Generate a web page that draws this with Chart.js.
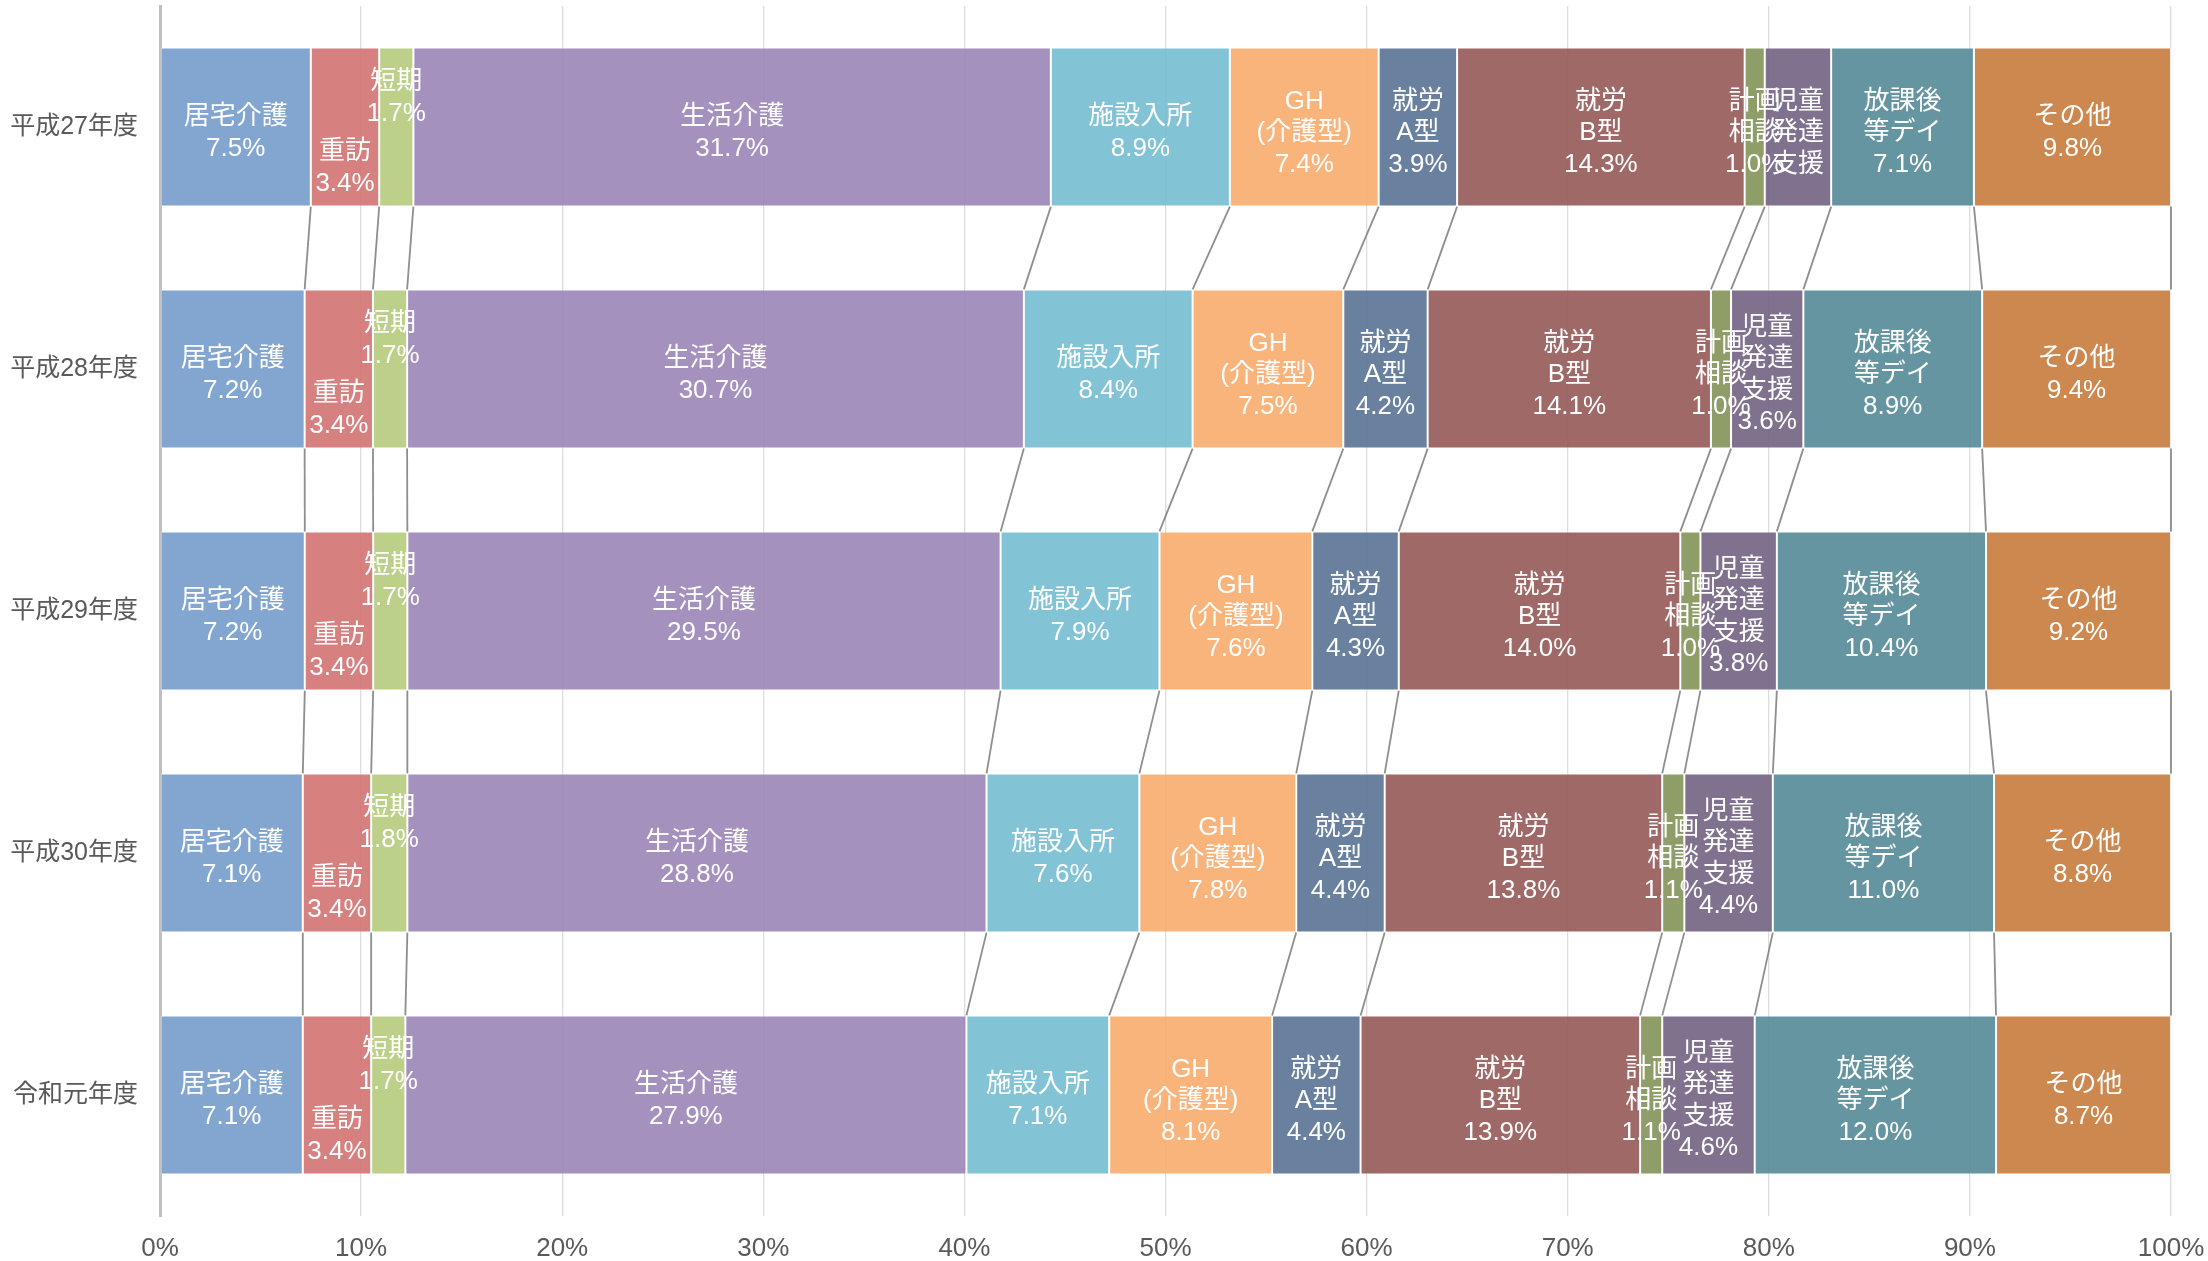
<!DOCTYPE html>
<html>
<head>
<meta charset="utf-8">
<script src="https://cdn.jsdelivr.net/npm/chart.js@4"></script>
<style>
  html, body { margin: 0; padding: 0; background: #ffffff; }
  #wrap { width: 2208px; height: 1261px; position: relative; }
</style>
</head>
<body>
<div id="wrap"><canvas id="c" width="2208" height="1261"></canvas></div>
<script>
// ---------------- data ----------------
const categories = ['平成27年度', '平成28年度', '平成29年度', '平成30年度', '令和元年度'];
const seriesNames = ['居宅介護', '重訪', '短期', '生活介護', '施設入所', 'GH(介護型)', '就労A型', '就労B型', '計画相談', '児童発達支援', '放課後等デイ', 'その他'];

const kyotaku  = [7.5, 7.2, 7.2, 7.1, 7.1];
const juho     = [3.4, 3.4, 3.4, 3.4, 3.4];
const tanki    = [1.7, 1.7, 1.7, 1.8, 1.7];
const seikatsu = [31.7, 30.7, 29.5, 28.8, 27.9];
const shisetsu = [8.9, 8.4, 7.9, 7.6, 7.1];
const gh       = [7.4, 7.5, 7.6, 7.8, 8.1];
const shuroA   = [3.9, 4.2, 4.3, 4.4, 4.4];
const shuroB   = [14.3, 14.1, 14.0, 13.8, 13.9];
const keikaku  = [1.0, 1.0, 1.0, 1.1, 1.1];
const jido     = [3.3, 3.6, 3.8, 4.4, 4.6];
const hokago   = [7.1, 8.9, 10.4, 11.0, 12.0];
const sonota   = [9.8, 9.4, 9.2, 8.8, 8.7];

const xTickValues = [0, 10, 20, 30, 40, 50, 60, 70, 80, 90, 100];

// label text lines for each series (value line appended)
const labelLines = [
  ['居宅介護'], ['重訪'], ['短期'], ['生活介護'], ['施設入所'],
  ['GH', '(介護型)'], ['就労', 'A型'], ['就労', 'B型'], ['計画', '相談'],
  ['児童', '発達', '支援'], ['放課後', '等デイ'], ['その他']
];
// value hidden for 児童発達支援 in 平成27年度
const hiddenValues = [[9, 0]];

// ---------------- styles ----------------
const seenColors = ['#84A6D0', '#D68080', '#BDD08A', '#A491BE', '#83C4D6', '#F8B47C',
                    '#6A819E', '#9E6A68', '#8F9E6A', '#80728F', '#6696A2', '#CC884F'];
const labelOffsetY = [0, 35, -35, 0, 0, 0, 0, 0, 0, 0, 0, 0];
const ALPHA = 0.9;
function baseColor(hex, a) {
  const n = parseInt(hex.slice(1), 16);
  const ch = [(n >> 16) & 255, (n >> 8) & 255, n & 255].map(v => Math.max(0, Math.min(255, Math.round((v - (1 - a) * 255) / a))));
  return `rgba(${ch[0]},${ch[1]},${ch[2]},${a})`;
}

const seriesValues = [kyotaku, juho, tanki, seikatsu, shisetsu, gh, shuroA, shuroB, keikaku, jido, hokago, sonota];
const totals = categories.map((_, i) => seriesValues.reduce((s, arr) => s + arr[i], 0));

const FONT_FAMILY = "'Liberation Sans', Arial, 'Noto Sans CJK JP', sans-serif";

const datasets = seriesValues.map((arr, k) => ({
  label: seriesNames[k],
  data: arr.map((v, i) => v / totals[i] * 100),
  raw: arr,
  backgroundColor: baseColor(seenColors[k], ALPHA),
  borderColor: 'rgba(255,255,255,0.55)',
  borderWidth: 1,
  borderSkipped: false,
  categoryPercentage: 1.0,
  barPercentage: 0.658
}));

// series lines connecting bars
const seriesLinesPlugin = {
  id: 'seriesLines',
  afterDatasetsDraw(chart) {
    const ctx = chart.ctx;
    ctx.save();
    ctx.strokeStyle = 'rgba(130,130,130,0.9)';
    ctx.lineWidth = 1.8;
    chart.data.datasets.forEach((ds, k) => {
      const meta = chart.getDatasetMeta(k);
      for (let i = 0; i < meta.data.length - 1; i++) {
        const a = meta.data[i], b = meta.data[i + 1];
        ctx.beginPath();
        ctx.moveTo(a.x, a.y + a.height / 2);
        ctx.lineTo(b.x, b.y - b.height / 2);
        ctx.stroke();
      }
    });
    ctx.restore();
  }
};

// data labels
const labelsPlugin = {
  id: 'segLabels',
  afterDatasetsDraw(chart) {
    const ctx = chart.ctx;
    ctx.save();
    ctx.fillStyle = '#ffffff';
    ctx.font = `26px ${FONT_FAMILY}`;
    ctx.textAlign = 'center';
    ctx.textBaseline = 'middle';
    const LH = 31.5;
    chart.data.datasets.forEach((ds, k) => {
      const meta = chart.getDatasetMeta(k);
      meta.data.forEach((el, i) => {
        const lines = labelLines[k].slice();
        const hide = hiddenValues.some(h => h[0] === k && h[1] === i);
        if (!hide) lines.push(ds.raw[i].toFixed(1) + '%');
        const cx = (el.x + el.base) / 2;
        const cy = el.y + labelOffsetY[k] + 6;
        const y0 = cy - (lines.length - 1) * LH / 2;
        lines.forEach((t, j) => ctx.fillText(t, cx, y0 + j * LH));
      });
    });
    ctx.restore();
  }
};

new Chart(document.getElementById('c'), {
  type: 'bar',
  data: { labels: categories, datasets },
  options: {
    indexAxis: 'y',
    responsive: false,
    animation: false,
    layout: { padding: { top: 6, right: 37, left: 0, bottom: 0 } },
    plugins: { legend: { display: false }, tooltip: { enabled: false } },
    scales: {
      x: {
        stacked: true,
        min: 0, max: 100,
        afterBuildTicks(scale) { scale.ticks = xTickValues.map(v => ({ value: v })); },
        afterFit(scale) { scale.height = 45; scale.paddingLeft = 0; scale.paddingRight = 0; },
        grid: { color: '#DDDDDD', lineWidth: 1.3, drawTicks: false },
        border: { display: false },
        ticks: {
          padding: 17,
          color: '#595959',
          font: { size: 26, family: FONT_FAMILY },
          callback: v => v + '%',
          maxRotation: 0
        }
      },
      y: {
        stacked: true,
        afterFit(scale) { scale.width = 160; scale.paddingTop = 0; scale.paddingBottom = 0; },
        grid: { display: false, drawTicks: false },
        border: { display: true, color: '#BFBFBF', width: 3 },
        ticks: {
          padding: 22,
          color: '#595959',
          font: { size: 25, family: FONT_FAMILY }
        }
      }
    }
  },
  plugins: [seriesLinesPlugin, labelsPlugin]
});
</script>
</body>
</html>
